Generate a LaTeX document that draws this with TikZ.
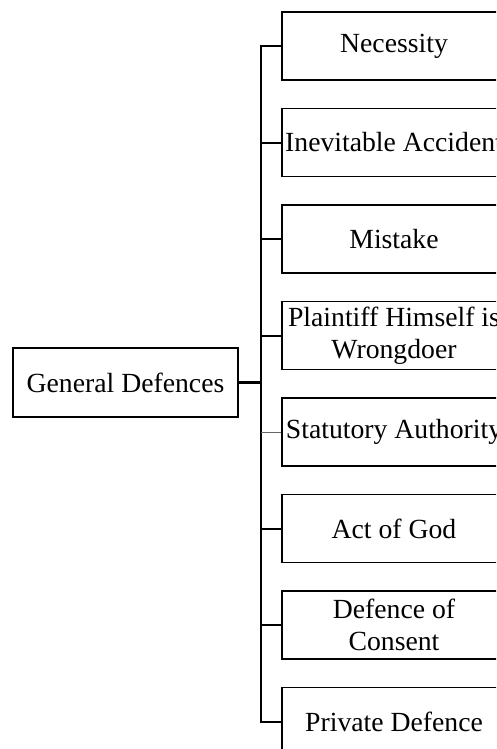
\documentclass[tikz,border=0pt]{standalone}
\usepackage{fontspec}
\setmainfont{Liberation Serif}
\begin{document}
\begin{tikzpicture}[x=1pt,y=1pt,line join=miter,
  defbox/.style={draw,line width=1.6pt,minimum width=224pt,minimum height=68pt,align=center,inner sep=0pt,font=\fontsize{27.7}{32}\selectfont},
  link/.style={line width=2pt}]
  \useasboundingbox (0,0) rectangle (496,-749);
  \clip (0,0) rectangle (496,-749);
  \def\pitch{96.5}
  \node[defbox,minimum width=225pt,minimum height=69pt] (gd) at (125.5,-382.5) {General Defences};
  \foreach \t [count=\i] in {Necessity,Inevitable Accident,Mistake,{Plaintiff Himself is\\Wrongdoer},Statutory Authority,Act of God,{Defence of\\Consent},Private Defence}
    \node[defbox] (d\i) at (394,{-46-\pitch*(\i-1)}) {\t};
  \coordinate (jn) at (261,-382.5);
  \draw[line width=3pt] (gd.east) -- (jn);
  \draw[line width=2.6pt,line cap=rect] (d1.west -| jn) -- (d8.west -| jn);
  \foreach \i in {1,2,3,4,6,7,8}
    \draw[link] (d\i.west) -- (d\i.west -| jn);
  \draw[line width=1pt,black!60] (d5.west) -- (d5.west -| jn);
\end{tikzpicture}
\end{document}
